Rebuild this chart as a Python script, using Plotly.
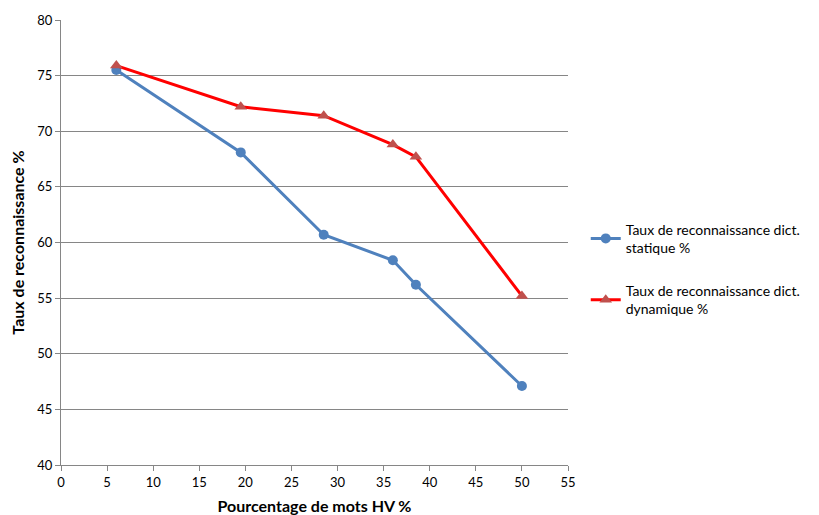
import plotly.graph_objects as go

x_vals = [6, 19.5, 28.5, 36, 38.5, 50]
statique = [75.5, 68.1, 60.7, 58.4, 56.2, 47.1]
dynamique = [75.9, 72.2, 71.4, 68.8, 67.7, 55.2]
name_stat = "Taux de reconnaissance dict.<br>statique %"
name_dyn = "Taux de reconnaissance dict.<br>dynamique %"

fig = go.Figure()
fig.add_trace(go.Scatter(
    x=x_vals, y=statique, name=name_stat, mode="lines+markers", legendgroup="a",
    line=dict(color="#4F81BD", width=3),
    marker=dict(symbol="circle", size=10, color="#4F81BD"),
))
fig.add_trace(go.Scatter(
    x=x_vals, y=dynamique, name=name_dyn, mode="lines+markers", legendgroup="b",
    line=dict(color="#FF0000", width=3),
    marker=dict(symbol="triangle-up", size=11, color="#C0504D"),
))

fig.update_layout(
    width=819, height=515,
    margin=dict(l=53, r=259, t=12, b=58, autoexpand=False),
    paper_bgcolor="white", plot_bgcolor="white",
    font=dict(family="Lato, Open Sans, sans-serif", size=13, color="#000000"),
    legend=dict(x=1.035, y=0.44, xanchor="left", yanchor="middle",
                font=dict(size=14), tracegroupgap=22, itemwidth=30,
                bgcolor="rgba(0,0,0,0)"),
    xaxis=dict(
        range=[0, 55], tickmode="linear", dtick=5, tick0=0,
        showgrid=False, zeroline=False, automargin=False,
        showline=True, linecolor="#868686", linewidth=1,
        ticks="outside", ticklen=5, tickcolor="#868686",
        title=dict(text="<b>Pourcentage de mots HV %</b>", font=dict(size=16), standoff=12),
    ),
    yaxis=dict(
        range=[40, 80], tickmode="linear", dtick=5, tick0=40,
        showgrid=True, gridcolor="#868686", gridwidth=1,
        zeroline=False, automargin=False,
        showline=True, linecolor="#868686", linewidth=1,
        ticks="outside", ticklen=5, tickcolor="#868686",
        title=dict(text="<b>Taux de reconnaissance %</b>", font=dict(size=16), standoff=14),
    ),
)

fig.write_html("out.html")
